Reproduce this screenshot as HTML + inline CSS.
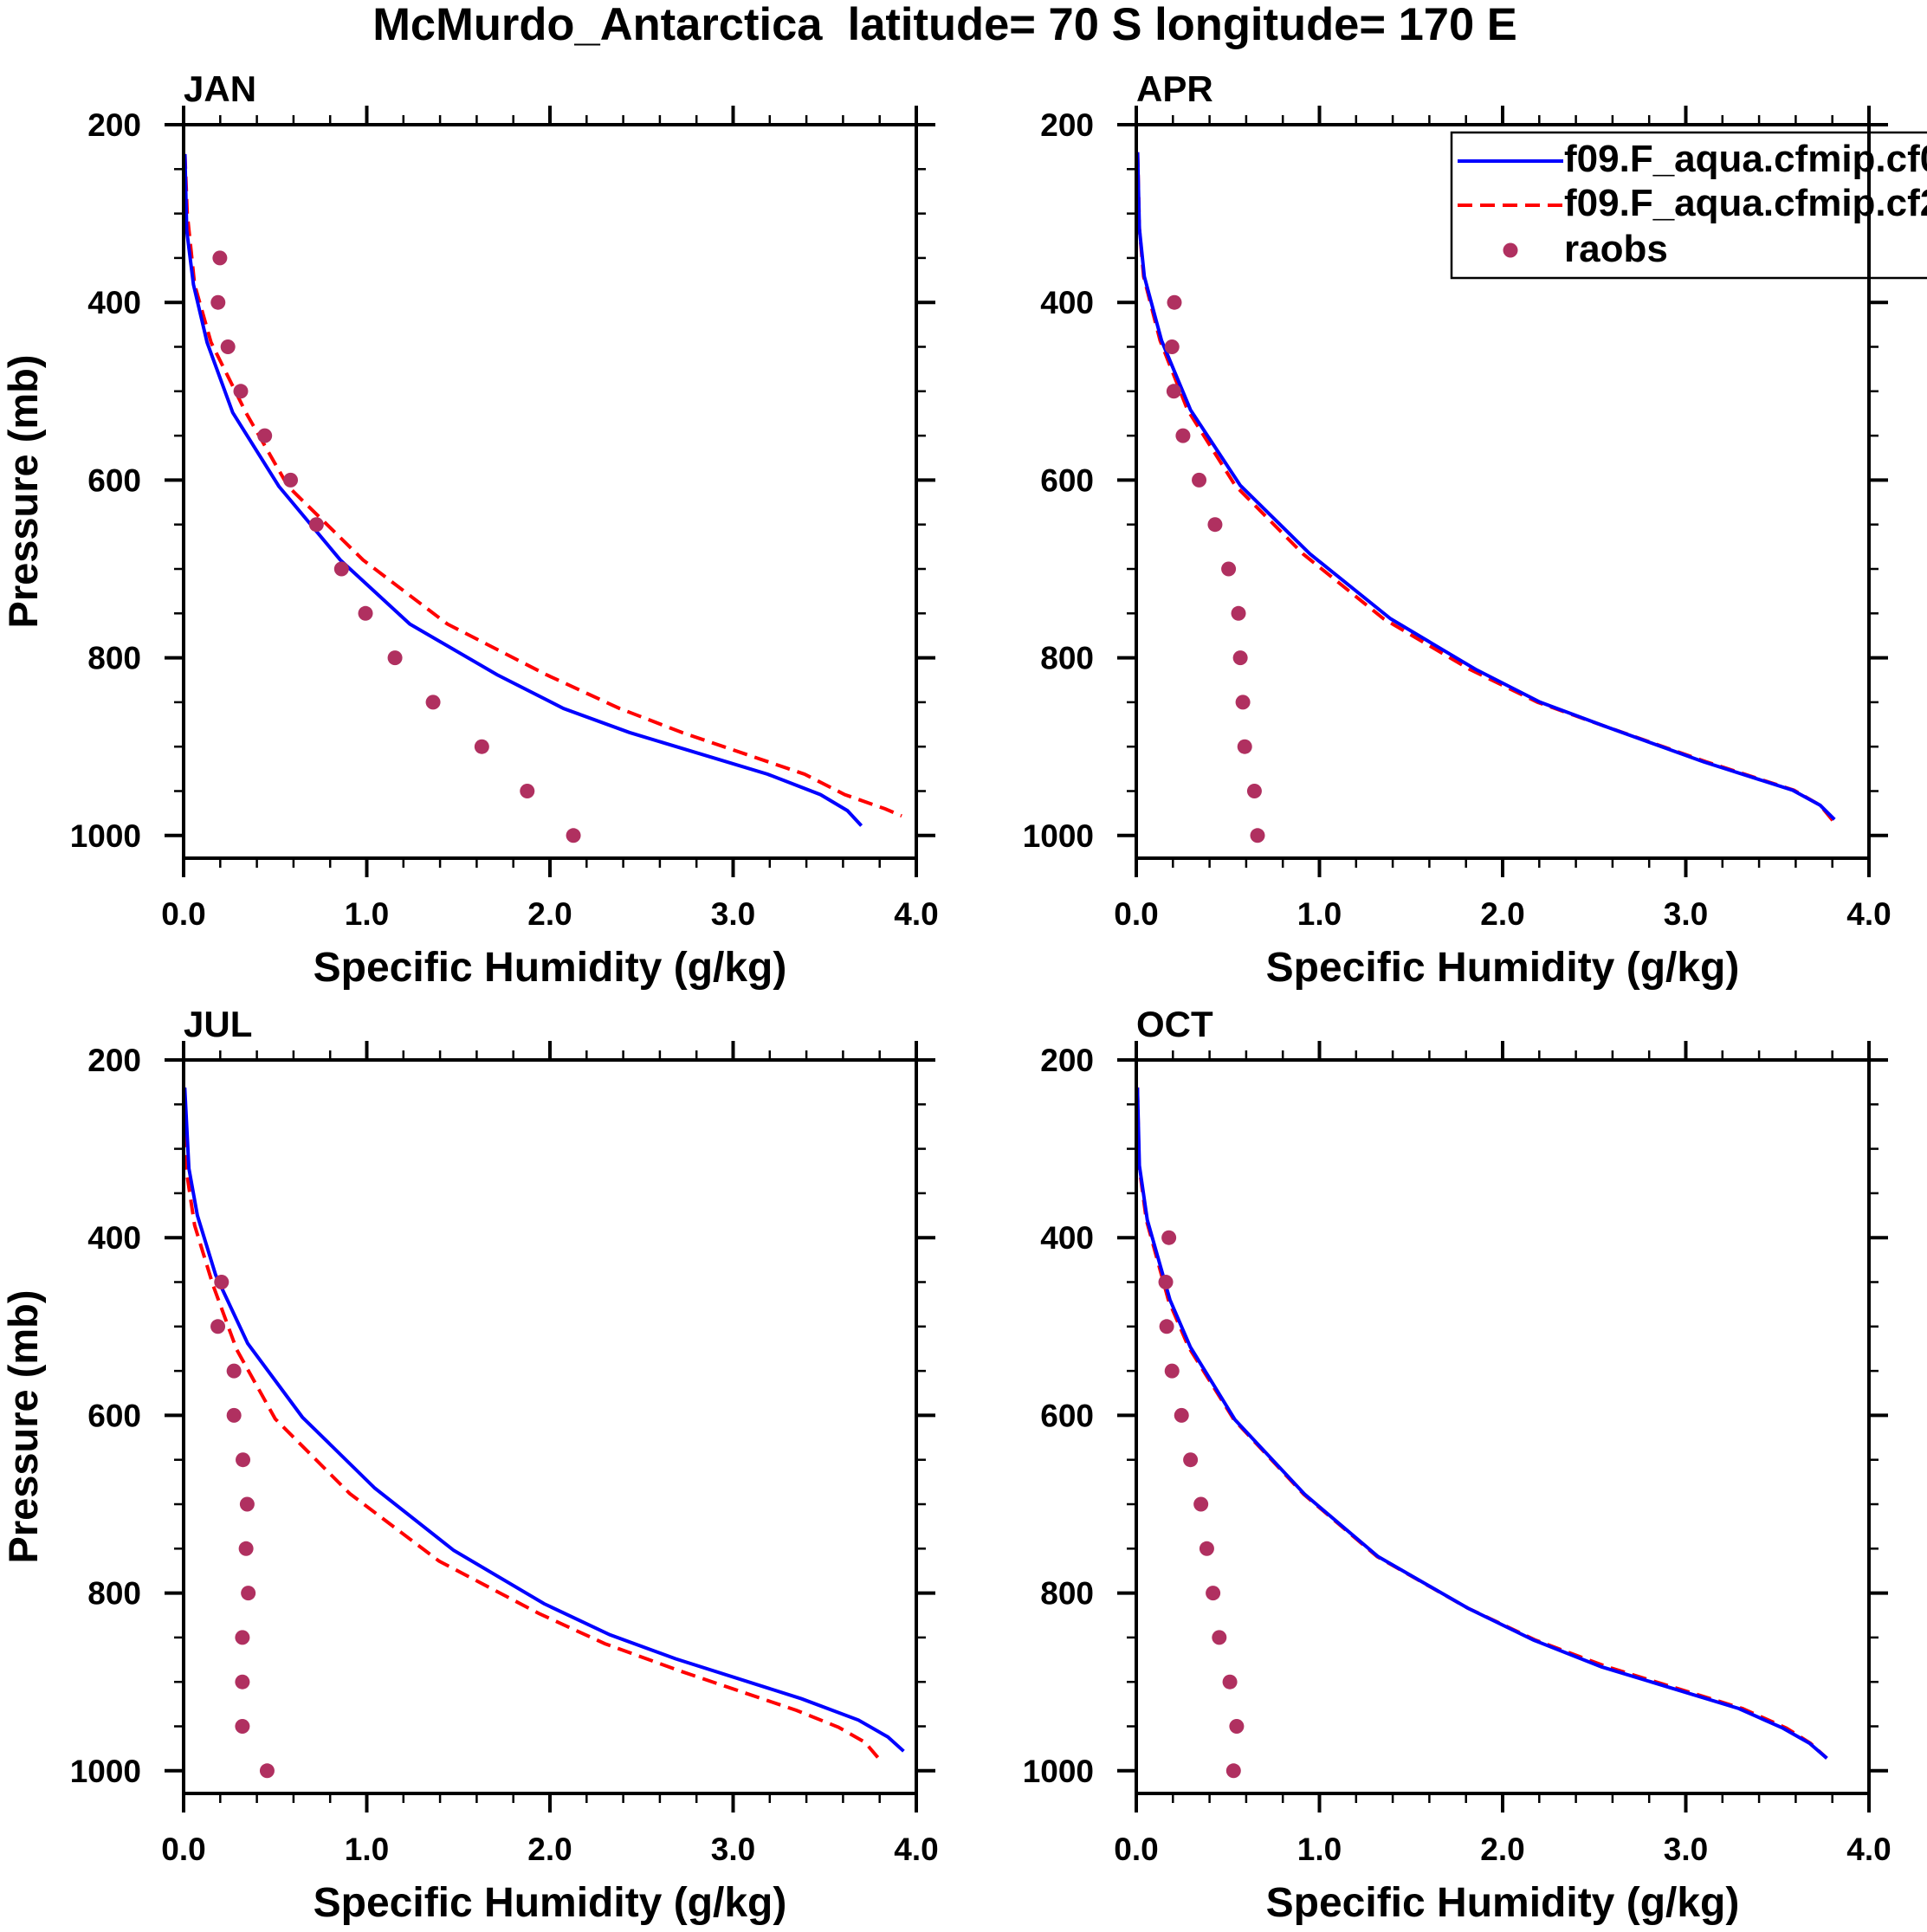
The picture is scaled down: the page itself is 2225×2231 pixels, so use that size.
<!DOCTYPE html>
<html><head><meta charset="utf-8">
<style>
html,body{margin:0;padding:0;background:#fff;}
svg{display:block;font-family:"Liberation Sans",Arial,sans-serif;font-weight:bold;}
</style></head>
<body>
<svg id="chart" width="2225" height="2231" viewBox="0 0 2225 2231" xmlns="http://www.w3.org/2000/svg">
<rect x="0" y="0" width="2225" height="2231" fill="#fff"/>
<text x="1091" y="46" font-size="52.5" text-anchor="middle" xml:space="preserve">McMurdo_Antarctica&#160; latitude= 70 S longitude= 170 E</text>
</svg>
<script>
// ---- data ----
const months = ["JAN","APR","JUL","OCT"];
const xTicks = [0,1,2,3,4];
const xTickLabels = ["0.0","1.0","2.0","3.0","4.0"];
const yTicks = [200,400,600,800,1000];
const yTickLabels = ["200","400","600","800","1000"];
const obsP = [350,400,450,500,550,600,650,700,750,800,850,900,950,1000];

const janBlueP = [233,319,380,445,524,607,690,762,819,857,884,931,954,972,989];
const janBlueQ = [0.007,0.017,0.054,0.128,0.268,0.52,0.856,1.235,1.711,2.074,2.433,3.188,3.477,3.624,3.70];
const janRedP = [233,300,380,445,524,607,690,762,819,857,884,931,954,970,978];
const janRedQ = [0.007,0.02,0.06,0.15,0.34,0.57,0.98,1.44,1.98,2.38,2.72,3.39,3.61,3.83,3.92];
const janObsQ = [0.198,0.188,0.242,0.312,0.443,0.584,0.725,0.862,0.993,1.154,1.362,1.628,1.876,2.128];

const aprBlueP = [231,317,371,443,521,606,683,756,813,850,877,917,949,966,982];
const aprBlueQ = [0.007,0.017,0.044,0.138,0.296,0.568,0.948,1.388,1.852,2.205,2.558,3.096,3.583,3.734,3.812];
const aprRedP = [231,317,371,443,521,606,683,756,813,850,877,917,949,966,985];
const aprRedQ = [0.007,0.017,0.04,0.13,0.28,0.54,0.91,1.35,1.82,2.19,2.558,3.11,3.59,3.734,3.81];
const aprObsQ = [null,0.208,0.195,0.205,0.255,0.343,0.43,0.504,0.558,0.568,0.582,0.592,0.645,0.662];

const julBlueP = [231,322,375,442,519,602,682,752,812,847,874,919,943,962,978];
const julBlueQ = [0.006,0.029,0.075,0.175,0.35,0.648,1.044,1.475,1.968,2.327,2.686,3.374,3.684,3.845,3.931];
const julRedP = [231,319,386,453,526,604,688,764,823,857,888,932,951,968,985];
const julRedQ = [0.004,0.011,0.06,0.16,0.29,0.5,0.907,1.395,1.94,2.3,2.715,3.345,3.575,3.72,3.79];
const julObsQ = [null,null,0.207,0.187,0.275,0.275,0.324,0.347,0.341,0.353,0.321,0.321,0.321,0.456];

const octBlueP = [231,319,380,470,523,605,689,759,817,853,883,930,952,969,986];
const octBlueQ = [0.006,0.017,0.06,0.184,0.295,0.539,0.92,1.32,1.81,2.17,2.54,3.29,3.53,3.675,3.77];
const octRedP = [231,319,380,470,523,605,689,759,817,853,883,930,952,969,986];
const octRedQ = [0.006,0.015,0.055,0.175,0.285,0.534,0.915,1.315,1.81,2.18,2.57,3.31,3.55,3.68,3.77];
const octObsQ = [null,0.178,0.161,0.166,0.195,0.247,0.296,0.353,0.385,0.419,0.453,0.511,0.548,0.531];

const legendLabels = ["f09.F_aqua.cfmip.cf0","f09.F_aqua.cfmip.cf2","raobs"];

// ---- drawing ----
const NS = "http://www.w3.org/2000/svg";
const svg = document.getElementById("chart");
function mk(tag, attrs, parent){
  const e = document.createElementNS(NS, tag);
  for (const k in attrs) e.setAttribute(k, attrs[k]);
  (parent||svg).appendChild(e);
  return e;
}
const W = 846, H = 847, XMAX = 4, PMIN = 200, PSCALE = 1.026;
const panels = [
  {name:"jan", x0:212, top:144, bp:janBlueP, bq:janBlueQ, rp:janRedP, rq:janRedQ, oq:janObsQ, ytitle:true},
  {name:"apr", x0:1312, top:144, bp:aprBlueP, bq:aprBlueQ, rp:aprRedP, rq:aprRedQ, oq:aprObsQ, legend:true},
  {name:"jul", x0:212, top:1224, bp:julBlueP, bq:julBlueQ, rp:julRedP, rq:julRedQ, oq:julObsQ, ytitle:true},
  {name:"oct", x0:1312, top:1224, bp:octBlueP, bq:octBlueQ, rp:octRedP, rq:octRedQ, oq:octObsQ}
];

panels.forEach((pn, i) => {
  const g = mk("g", {});
  
  
  const sx = q => pn.x0 + q / XMAX * W;
  const sy = p => pn.top + (p - PMIN) * PSCALE;
  const L = pn.x0, R = pn.x0 + W, T = pn.top, B = pn.top + H;

  const cp = mk("clipPath", {id:"clip"+i}, g);
  mk("rect", {x:L, y:T, width:W, height:H}, cp);

  const pts = (P,Q) => P.map((p,k)=>sx(Q[k]).toFixed(1)+","+sy(p).toFixed(1)).join(" ");
  const red = mk("polyline", {points:pts(pn.rp,pn.rq), fill:"none", stroke:"#ff0000", "stroke-width":4, "stroke-dasharray":"17 9", "clip-path":"url(#clip"+i+")"}, g);
  
  
  const blue = mk("polyline", {points:pts(pn.bp,pn.bq), fill:"none", stroke:"#0000ff", "stroke-width":4, "clip-path":"url(#clip"+i+")"}, g);
  
  
  obsP.forEach((p,k) => {
    if (pn.oq[k] === null) return;
    const c = mk("circle", {cx:sx(pn.oq[k]), cy:sy(p), r:8.5, fill:"#b03060"}, g);
    
    
  });

  const fr = mk("rect", {x:L, y:T, width:W, height:H, fill:"none", stroke:"#000", "stroke-width":4}, g);
  
  

  for (let m = 0; m <= 20; m++) {
    const q = m * 0.2, x = sx(q), major = (m % 5 === 0);
    const len = major ? 22 : 11, sw = major ? 4 : 2.5;
    mk("line", {x1:x, y1:B, x2:x, y2:B+len, stroke:"#000", "stroke-width":sw}, g);
    mk("line", {x1:x, y1:T, x2:x, y2:T-len, stroke:"#000", "stroke-width":sw}, g);
  }
  xTicks.forEach((q,k) => {
    const t = mk("text", {x:sx(q), y:T+924, "font-size":37, "text-anchor":"middle"}, g);
    t.textContent = xTickLabels[k];
    
    
  });
  for (let p = 200; p <= 1000; p += 50) {
    const y = sy(p), major = (p % 200 === 0);
    const len = major ? 22 : 11, sw = major ? 4 : 2.5;
    mk("line", {x1:L, y1:y, x2:L-len, y2:y, stroke:"#000", "stroke-width":sw}, g);
    mk("line", {x1:R, y1:y, x2:R+len, y2:y, stroke:"#000", "stroke-width":sw}, g);
  }
  yTicks.forEach((p,k) => {
    const t = mk("text", {x:L-49, y:sy(p)+13, "font-size":37, "text-anchor":"end"}, g);
    t.textContent = yTickLabels[k];
    
    
  });

  const ml = mk("text", {x:L, y:T-27, "font-size":42}, g);
  ml.textContent = months[i];
  
  
  const xt = mk("text", {x:(L+R)/2, y:T+989, "font-size":48, "text-anchor":"middle"}, g);
  xt.textContent = "Specific Humidity (g/kg)";
  
  
  if (pn.ytitle) {
    const cy = (T+B)/2;
    const yt = mk("text", {x:0, y:0, "font-size":47, "text-anchor":"middle", transform:"translate(43,"+cy+") rotate(-90)"}, g);
    yt.textContent = "Pressure (mb)";
    
    
  }

  if (pn.legend) {
    const lg = mk("g", {}, g);
    
    
    mk("rect", {x:1676, y:153, width:600, height:168, fill:"#fff", stroke:"#000", "stroke-width":2.5}, lg);
    mk("line", {x1:1683, y1:186, x2:1805, y2:186, stroke:"#0000ff", "stroke-width":4}, lg);
    mk("line", {x1:1683, y1:237, x2:1805, y2:237, stroke:"#ff0000", "stroke-width":4, "stroke-dasharray":"17 9"}, lg);
    mk("circle", {cx:1744, cy:289, r:8.5, fill:"#b03060"}, lg);
    const ys = [198, 249, 302];
    legendLabels.forEach((s,k) => {
      const t = mk("text", {x:1806, y:ys[k], "font-size":44}, lg);
      t.textContent = s;
      
      
    });
    mk("line", {x1:R, y1:153, x2:R, y2:321, stroke:"#000", "stroke-width":4}, lg);
  }
});
</script>
</body></html>
